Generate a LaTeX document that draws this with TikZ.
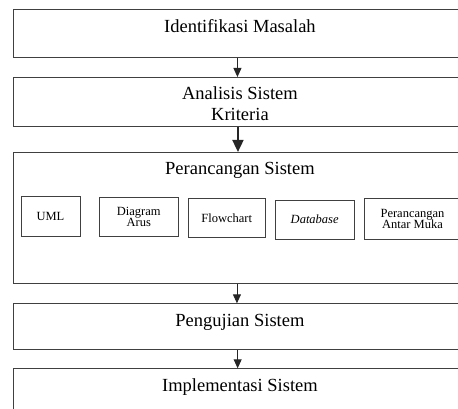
\documentclass[tikz,border=0pt]{standalone}
\usepackage{fontspec}
\setmainfont{Liberation Serif}
\usetikzlibrary{arrows.meta}

\tikzset{
  stagebox/.style={draw=black!75, line width=0.9pt, anchor=north west, inner sep=0pt,
    minimum width=454pt, align=center, text height=22.5pt, text depth=#1,
    font=\fontsize{18.5}{21}\selectfont},
  partbox/.style={draw=black!75, line width=0.9pt, inner sep=0pt, align=center,
    font=\fontsize{12.5}{11.5}\selectfont},
  flow/.style={draw=black!85, line width=0.9pt, -{Triangle[width=8pt,length=9pt]}},
  bigflow/.style={draw=black!85, line width=1.8pt, -{Triangle[width=11pt,length=12pt]}},
}

\begin{document}
\begin{tikzpicture}[x=1pt, y=-1pt]
  \path[use as bounding box, clip] (0,0) rectangle (458,409);
  % the stages
  \node[stagebox=25pt] (ident) at (12.5,9.5) {Identifikasi Masalah};
  \node[stagebox=5.2pt, text height=43.5pt] (analisis) at (12.5,77) {Analisis Sistem\\Kriteria};
  \node[stagebox=108.5pt] (rancang) at (12.5,152) {Perancangan Sistem};
  \node[stagebox=23.5pt] (uji) at (12.5,303.3) {Pengujian Sistem};
  \node[stagebox=24.5pt] (impl) at (12.5,368.3) {Implementasi Sistem};
  % parts of the design stage
  \node[partbox, minimum width=59pt, minimum height=39.3pt] (uml) at (50.5,216.3) {UML};
  \node[partbox, minimum width=79pt, minimum height=38.3pt] (arus) at (138.8,216.8) {Diagram\\Arus};
  \node[partbox, minimum width=76.7pt, minimum height=38.6pt] (flowchart) at (226.7,218) {Flowchart};
  \node[partbox, minimum width=79.3pt, minimum height=39.3pt] (db) at (314.7,219.7) {\itshape Database};
  \node[partbox, minimum width=96pt, minimum height=40.6pt] (muka) at (412.5,219) {Perancangan\\Antar Muka};
  % arrows between the stages
  \draw[flow] ([xshift=-2.5pt]ident.south) -- ([xshift=-2.5pt]analisis.north);
  \draw[bigflow] ([xshift=-2pt]analisis.south) -- ([xshift=-2pt]rancang.north);
  \draw[flow] ([xshift=-3pt]rancang.south) -- ([xshift=-3pt]uji.north);
  \draw[flow] ([xshift=-2.3pt]uji.south) -- ([xshift=-2.3pt]impl.north);
\end{tikzpicture}
\end{document}
